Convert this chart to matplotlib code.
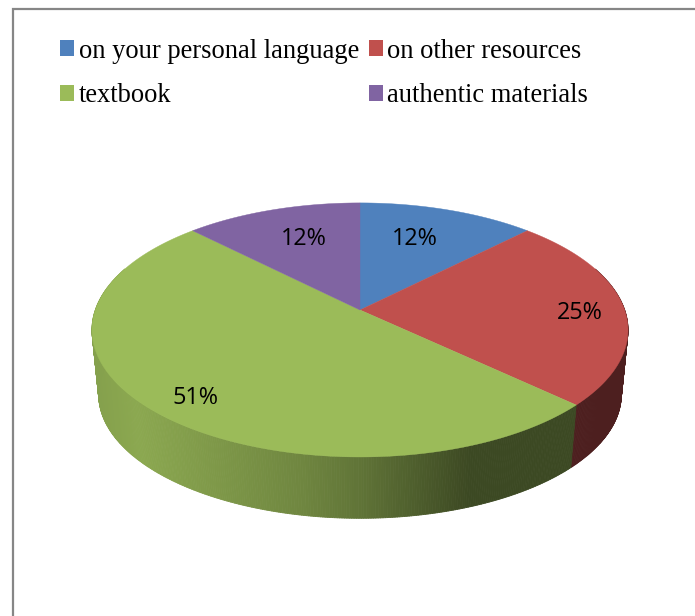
import numpy as np
import matplotlib
matplotlib.use("Agg")
import matplotlib.pyplot as plt
from matplotlib.patches import Patch
from matplotlib.collections import PolyCollection

categories = ["on your personal language", "on other resources", "textbook", "authentic materials"]
values = [12.4, 24.6, 50.6, 12.4]
pct_labels = ["12%", "25%", "51%", "12%"]
colors = ["#4F81BD", "#C0504D", "#9BBB59", "#8064A2"]
label_pos = [(415, 239), (580, 313), (195, 398), (304, 239)]

# perspective projection of the pie disc onto the page (pixel space)
CX, CY = 360.0, 310.0
A, B, K = 264.7, 123.9, 0.157
BOTTOM_SCALE, BOTTOM_Y = 0.975, 375.0

def project(theta, scale=1.0, cy=CY):
    u, v = np.sin(theta), np.cos(theta)
    w = 1 + K * v
    return CX + scale * A * u / w, cy - scale * B * v / w

def side_color(i, x):
    base = np.array(matplotlib.colors.to_rgb(colors[i]))
    f = np.interp(x, [95, 135, 300, 360, 470, 640], [0.86, 0.90, 0.72, 0.62, 0.39, 0.39])
    if i == 1:
        return (0.30, 0.12, 0.12)
    return tuple(base * f)

fig = plt.figure(figsize=(6.95, 6.16), dpi=100)
ax = fig.add_axes([0, 0, 1, 1])
ax.set_xlim(0, 695)
ax.set_ylim(616, 0)
ax.axis("off")

# chart frame, running off the right and bottom of the page
ax.plot([12.5, 12.5, 700], [620, 9, 9], color="#868686", lw=1.6, solid_joinstyle="miter", zorder=1)

edges = np.cumsum([0] + values) / sum(values) * 2 * np.pi

# side wall
for i in range(len(values)):
    th = np.linspace(edges[i], edges[i + 1], max(2, int(values[i] * 8)))
    polys, cols = [], []
    for a, b in zip(th[:-1], th[1:]):
        if np.cos((a + b) / 2) > 0.35:
            continue
        x1, y1 = project(a); x2, y2 = project(b)
        x3, y3 = project(b, BOTTOM_SCALE, BOTTOM_Y); x4, y4 = project(a, BOTTOM_SCALE, BOTTOM_Y)
        polys.append([(x1, y1), (x2, y2), (x3, y3), (x4, y4)])
        cols.append(side_color(i, (x1 + x2) / 2))
    if polys:
        ax.add_collection(PolyCollection(polys, facecolors=cols, edgecolors=cols, linewidths=0.6, zorder=2))

# top face
for i in range(len(values)):
    th = np.linspace(edges[i], edges[i + 1], 200)
    xs, ys = project(th)
    ax.fill(np.r_[CX, xs], np.r_[CY, ys], color=colors[i], lw=0.3, zorder=3)

for (x, y), s in zip(label_pos, pct_labels):
    ax.text(x, y, s, ha="center", va="center", fontsize=16.8, family="Open Sans", color="black", zorder=4)

handles = [Patch(facecolor=c, edgecolor="none") for c in colors]
order = [0, 2, 1, 3]
ax.legend([handles[j] for j in order], [categories[j] for j in order], ncol=2,
          loc="upper left", bbox_to_anchor=(60 / 695, 1 - 38.5 / 616), borderaxespad=0, borderpad=0,
          frameon=False, prop={"family": "Liberation Serif", "size": 19.1},
          handlelength=0.53, handleheight=0.53, handletextpad=0.17,
          columnspacing=0.38, labelspacing=0.745)

fig.savefig("out.png", dpi=100, facecolor="white")
